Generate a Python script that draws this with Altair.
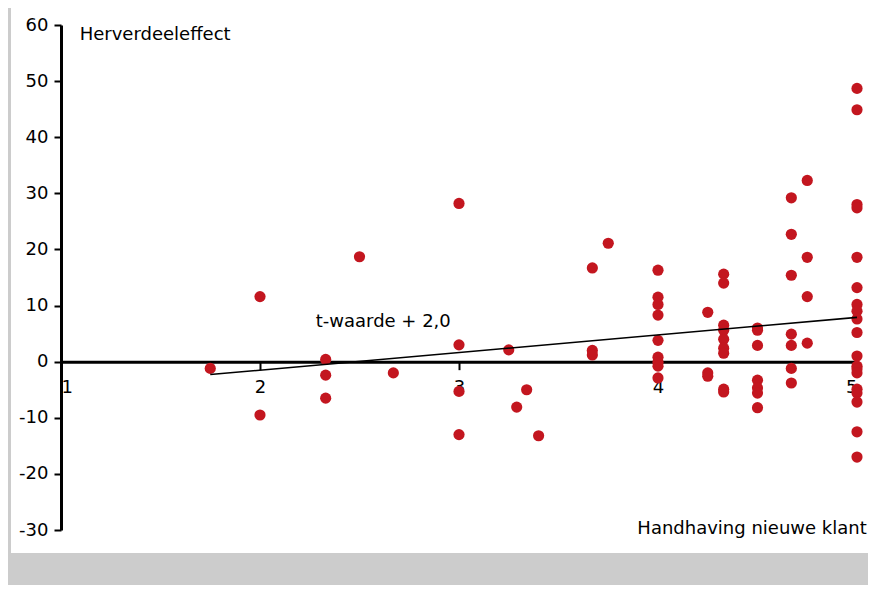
import altair as alt
import pandas as pd

# ---- data ----
px = [1.75, 2, 2, 2.33, 2.33, 2.33, 2.5, 2.67,
      3, 3, 3, 3, 3.25, 3.29, 3.34, 3.4, 3.67, 3.67, 3.67, 3.75,
      4, 4, 4, 4, 4, 4, 4, 4, 4,
      4.25, 4.25, 4.25,
      4.33, 4.33, 4.33, 4.33, 4.33, 4.33, 4.33, 4.33, 4.33,
      4.5, 4.5, 4.5, 4.5, 4.5, 4.5, 4.5,
      4.67, 4.67, 4.67, 4.67, 4.67, 4.67, 4.67,
      4.75, 4.75, 4.75, 4.75,
      5, 5, 5, 5, 5, 5, 5, 5, 5, 5, 5, 5, 5, 5, 5, 5, 5, 5, 5]
py = [-1.2, 11.6, -9.5, 0.4, -2.4, -6.5, 18.7, -2.0,
      28.2, 3.0, -5.3, -13.0, 2.1, -8.1, -5.0, -13.2, 16.7, 2.0, 1.2, 21.1,
      16.3, 11.5, 10.2, 8.3, 3.8, 0.8, -0.1, -0.8, -2.9,
      8.8, -2.0, -2.6,
      15.6, 14.0, 6.5, 5.6, 4.0, 2.4, 1.5, -4.9, -5.4,
      6.0, 5.6, 2.9, -3.3, -4.7, -5.6, -8.2,
      29.2, 22.7, 15.4, 4.9, 2.9, -1.2, -3.8,
      32.3, 18.6, 11.6, 3.3,
      48.7, 44.9, 28.0, 27.4, 18.6, 13.2, 10.2, 9.0, 7.6, 5.2, 1.0, -0.8, -1.3, -2.0, -4.9, -5.6, -7.2, -12.5, -17.0]

reg_x = [1.75, 5]
reg_y = [-2.3, 7.9]

x_ticks = [1, 2, 3, 4, 5]
y_ticks = [-30, -20, -10, 0, 10, 20, 30, 40, 50, 60]

labels_text = ["Herverdeeleffect", "t-waarde + 2,0", "Handhaving nieuwe klant"]
labels_x = [1.094, 2.28, 5.049]
labels_y = [58.2, 7.0, -29.8]
labels_align = ["left", "left", "right"]

W, H = 796, 505
FONT = "DejaVu Sans"
RED = "#c3161f"
GRAY = "#cccccc"

pts = pd.DataFrame({"x": px, "y": py})
reg = pd.DataFrame({"x": reg_x, "y": reg_y})
lab = pd.DataFrame({"t": labels_text, "x": labels_x, "y": labels_y, "a": labels_align})

xs = alt.Scale(domain=[1, 5], nice=False, zero=False)
ys = alt.Scale(domain=[-30, 60], nice=False, zero=False)

x_axis = alt.Axis(values=x_ticks, title=None, grid=False,
                  labelExpr="'' + datum.value",
                  offset=-(H - 60 * H / 90), domainWidth=3, domainColor="black",
                  tickColor="black", tickWidth=2, tickSize=8,
                  labelFontSize=18, labelFont=FONT, labelColor="black",
                  labelPadding=9)
y_axis = alt.Axis(values=y_ticks, title=None, grid=False,
                  labelExpr="'' + datum.value",
                  domainWidth=3, domainColor="black",
                  tickColor="black", tickWidth=2, tickSize=7,
                  labelFontSize=18, labelFont=FONT, labelColor="black",
                  labelPadding=6)

one = pd.DataFrame({"k": [0]})
# gray frame pieces (left strip and bottom band)
frame_left = alt.Chart(one).mark_rect(color=GRAY).encode(
    x=alt.value(-53), x2=alt.value(-50), y=alt.value(-17), y2=alt.value(H + 55))
frame_bottom = alt.Chart(one).mark_rect(color=GRAY).encode(
    x=alt.value(-53), x2=alt.value(W + 11), y=alt.value(H + 23), y2=alt.value(H + 55))

points = alt.Chart(pts).mark_circle(color=RED, opacity=1, size=125).encode(
    x=alt.X("x:Q", scale=xs, axis=x_axis),
    y=alt.Y("y:Q", scale=ys, axis=y_axis))

line = alt.Chart(reg).mark_line(color="black", strokeWidth=1.6).encode(
    x=alt.X("x:Q", scale=xs), y=alt.Y("y:Q", scale=ys))

texts = []
for al in ["left", "right"]:
    texts.append(
        alt.Chart(lab[lab["a"] == al]).mark_text(
            align=al, baseline="middle", fontSize=18, font=FONT, color="black").encode(
            x=alt.X("x:Q", scale=xs), y=alt.Y("y:Q", scale=ys), text="t:N"))

chart = alt.layer(frame_left, frame_bottom, points, line, *texts).properties(
    width=W, height=H,
    padding={"left": 53, "top": 17, "right": 11, "bottom": 55},
    autosize=alt.AutoSizeParams(type="none"),
).configure(background="white").configure_view(strokeWidth=0)

chart.save("out.html", embed_options={"renderer": "svg", "actions": False})
